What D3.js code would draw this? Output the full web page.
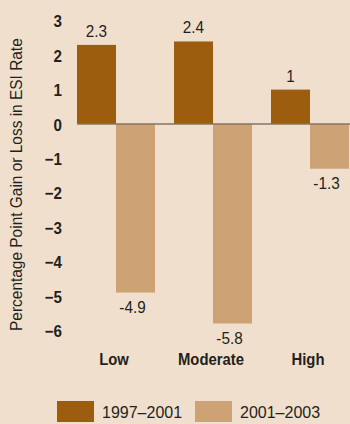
<!DOCTYPE html>
<html>
<head>
<meta charset="utf-8">
<script src="https://cdn.jsdelivr.net/npm/d3@7"></script>
<style>
  body { margin: 0; background: #f0dfcd; }
  svg { display: block; }
  text { font-family: "Liberation Sans", Arial, sans-serif; fill: #231f20; }
</style>
</head>
<body>
<svg width="350" height="424"></svg>
<script>
// ESI rate change by group, two periods
let categories = ["Low", "Moderate", "High"];
let series = ["1997\u20132001", "2001\u20132003"];
let vals9701 = [2.3, 2.4, 1];
let vals0103 = [-4.9, -5.8, -1.3];
let yTicks = [3, 2, 1, 0, -1, -2, -3, -4, -5, -6];
let colors = ["#9c5d0e", "#cda375"];

let svg = d3.select("svg");
let width = +svg.attr("width");
let height = +svg.attr("height");

svg.append("rect").attr("width", width).attr("height", height).attr("fill", "#f0dfcd");

let y = d3.scaleLinear().domain([3, -6]).range([20.8, 330.4]);
let x0 = d3.scaleBand().domain(categories).range([77, 349]).paddingInner(0.196).paddingOuter(0);
let x1 = d3.scaleBand().domain(series).range([0, x0.bandwidth()]);

let data = categories.map(function(c, i) {
  return { cat: c, vals: [vals9701[i], vals0103[i]] };
});

// y axis tick labels, no axis line
let yAxis = d3.axisLeft(y).tickValues(yTicks).tickSize(0).tickPadding(0);
let ya = svg.append("g").attr("transform", "translate(62,0)").call(yAxis);
ya.select(".domain").remove();
ya.selectAll("text")
  .attr("x", 0).attr("dy", null)
  .attr("transform", "translate(0,6) scale(0.92,1)")
  .style("font-family", "\"Liberation Sans\", Arial, sans-serif")
  .style("font-weight", "bold")
  .style("font-size", "16.5px")
  .attr("fill", "#231f20");

// y title
svg.append("text")
  .attr("transform", "translate(22," + ((y(3) + y(-6)) / 2 + 9) + ") rotate(-90) scale(0.937,1)")
  .attr("text-anchor", "middle")
  .style("font-size", "16.5px")
  .text("Percentage Point Gain or Loss in ESI Rate");

// bars
let groups = svg.selectAll(".grp")
  .data(data)
  .enter()
  .append("g")
  .attr("class", "grp")
  .attr("transform", function(d) { return "translate(" + x0(d.cat) + ",0)"; });

groups.selectAll("rect")
  .data(function(d) { return d.vals.map(function(v, i) { return { s: series[i], v: v, i: i }; }); })
  .enter()
  .append("rect")
  .attr("x", function(d) { return x1(d.s); })
  .attr("width", x1.bandwidth())
  .attr("y", function(d) { return d.v >= 0 ? y(d.v) : y(0); })
  .attr("height", function(d) { return Math.abs(y(d.v) - y(0)); })
  .attr("fill", function(d) { return colors[d.i]; });

// zero line
svg.append("line")
  .attr("x1", x0.range()[0]).attr("x2", x0.range()[1] + 2)
  .attr("y1", y(0)).attr("y2", y(0))
  .attr("stroke", "#857563").attr("stroke-width", 1.5);

// value labels
groups.selectAll(".val")
  .data(function(d) { return d.vals.map(function(v, i) { return { s: series[i], v: v }; }); })
  .enter()
  .append("text")
  .attr("class", "val")
  .attr("transform", function(d) {
    let tx = x1(d.s) + x1.bandwidth() / 2 - (d.v < 0 ? 3 : 0);
    let ty = d.v >= 0 ? y(d.v) - 8 : y(d.v) + 20.5;
    return "translate(" + tx + "," + ty + ") scale(0.9,1)";
  })
  .attr("text-anchor", "middle")
  .style("font-size", "17px")
  .text(function(d) { return d.v; });

// category labels
svg.selectAll(".cat")
  .data(categories)
  .enter()
  .append("text")
  .attr("class", "cat")
  .attr("transform", function(d) {
    return "translate(" + (x0(d) + x0.bandwidth() / 2 - 2) + ",364.5) scale(0.9,1)";
  })
  .attr("text-anchor", "middle")
  .style("font-size", "16.5px")
  .style("font-weight", "bold")
  .text(function(d) { return d; });

// legend
let legX = [57, 195];
let leg = svg.selectAll(".leg")
  .data(series)
  .enter()
  .append("g")
  .attr("class", "leg")
  .attr("transform", function(d, i) { return "translate(" + legX[i] + ",401)"; });
leg.append("rect").attr("width", 37).attr("height", 21).attr("fill", function(d, i) { return colors[i]; });
leg.append("text").attr("x", 45).attr("y", 17).style("font-size", "16px").text(function(d) { return d; });
</script>
</body>
</html>
